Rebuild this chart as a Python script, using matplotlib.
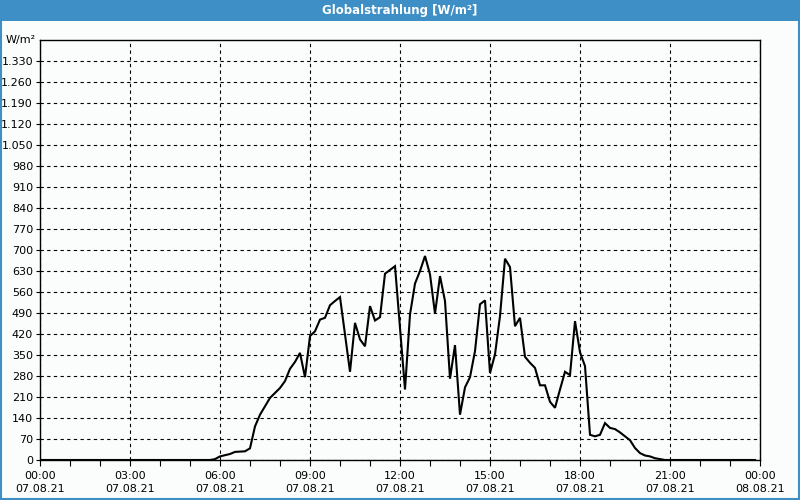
import pandas as pd
import matplotlib
matplotlib.use("Agg")
from matplotlib import pyplot as plt
import matplotlib.dates as mdates
from matplotlib.ticker import FuncFormatter

# Measurements, 07.08.21 (10-minute values, W/m²).
times = ["00:00", "05:40", "05:50", "06:00", "06:20", "06:30", "06:50", "07:00",
         "07:10", "07:20", "07:30", "07:40", "08:00", "08:10", "08:20", "08:30",
         "08:40", "08:50", "09:00", "09:10", "09:20", "09:30", "09:40", "09:50",
         "10:00", "10:20", "10:30", "10:40", "10:50", "11:00", "11:10", "11:20",
         "11:30", "11:50", "12:10", "12:20", "12:30", "12:40", "12:50", "13:00",
         "13:10", "13:20", "13:30", "13:40", "13:50", "14:00", "14:10", "14:20",
         "14:30", "14:40", "14:50", "15:00", "15:10", "15:20", "15:30", "15:40",
         "15:50", "16:00", "16:10", "16:20", "16:30", "16:40", "16:50", "17:00",
         "17:10", "17:20", "17:30", "17:40", "17:50", "18:00", "18:10", "18:20",
         "18:30", "18:40", "18:50", "19:00", "19:10", "19:20", "19:30", "19:40",
         "19:50", "20:00", "20:10", "20:20", "20:30", "20:40", "20:50", "23:50"]
radiation = [0, 0, 3, 12, 20, 27, 29, 39,
             112, 151, 179, 207, 240, 263, 304, 327,
             357, 276, 413, 429, 468, 474, 516, 530,
             543, 294, 457, 402, 379, 513, 465, 476,
             621, 646, 235, 485, 588, 630, 680, 619,
             488, 613, 530, 271, 383, 151, 242, 276,
             363, 519, 532, 290, 352, 480, 671, 643,
             446, 474, 344, 324, 307, 249, 249, 194,
             174, 235, 294, 283, 463, 359, 313, 84,
             79, 84, 123, 107, 103, 92, 79, 66,
             40, 23, 15, 12, 6, 3, 0, 0]

y_ticks = list(range(0, 1400, 70))
title = "Globalstrahlung [W/m²]"
unit = "W/m²"

t = pd.to_datetime(["2021-08-07 " + s for s in times])
start = pd.Timestamp("2021-08-07 00:00")
end = pd.Timestamp("2021-08-08 00:00")

bg = "#fafdfb"
bar = "#3d8fc6"
fs = 8

plt.rcParams["font.family"] = "DejaVu Sans"
fig = plt.figure(figsize=(8, 5), dpi=100, facecolor=bg)

# title bar and window border
fig.patches.append(plt.Rectangle((0, 1 - 21 / 500), 1, 21 / 500, transform=fig.transFigure,
                                 facecolor=bar, edgecolor="none", zorder=0))
fig.patches.append(plt.Rectangle((0.0012, 0.002), 0.9976, 0.996, transform=fig.transFigure,
                                 facecolor="none", edgecolor=bar, lw=1.5, zorder=0))
fig.text(0.5, 1 - 10.5 / 500, title, color="white", fontsize=8.5, fontweight="bold",
         ha="center", va="center")

ax = fig.add_axes([40 / 800, 40 / 500, 720 / 800, 420 / 500])
ax.set_facecolor(bg)
ax.plot(t, radiation, color="black", lw=1.5, solid_joinstyle="miter", zorder=3)

ax.set_xlim(start, end)
ax.set_ylim(0, 1400)

ax.xaxis.set_major_locator(mdates.HourLocator(byhour=range(0, 24, 3)))
ax.xaxis.set_minor_locator(mdates.HourLocator())
ax.xaxis.set_major_formatter(mdates.DateFormatter("%H:%M\n%d.%m.%y"))
ax.set_yticks(y_ticks)
ax.yaxis.set_major_formatter(FuncFormatter(lambda v, p: f"{int(v):,}".replace(",", ".")))

ax.grid(True, which="major", color="black", linestyle=(0, (3, 3)), lw=0.8)
ax.tick_params(axis="x", which="both", direction="out", length=4, width=0.8,
               labelsize=fs, pad=4)
ax.tick_params(axis="y", which="both", direction="out", length=3, width=0.8,
               labelsize=fs, pad=2)
for lbl in ax.get_xticklabels():
    lbl.set_linespacing(1.35)

ax.text(-0.006, 1400, unit, transform=ax.get_yaxis_transform(), ha="right", va="center",
        fontsize=fs)

for s in ax.spines.values():
    s.set_linewidth(1.0)

fig.savefig("out.png", dpi=100, facecolor=bg)
